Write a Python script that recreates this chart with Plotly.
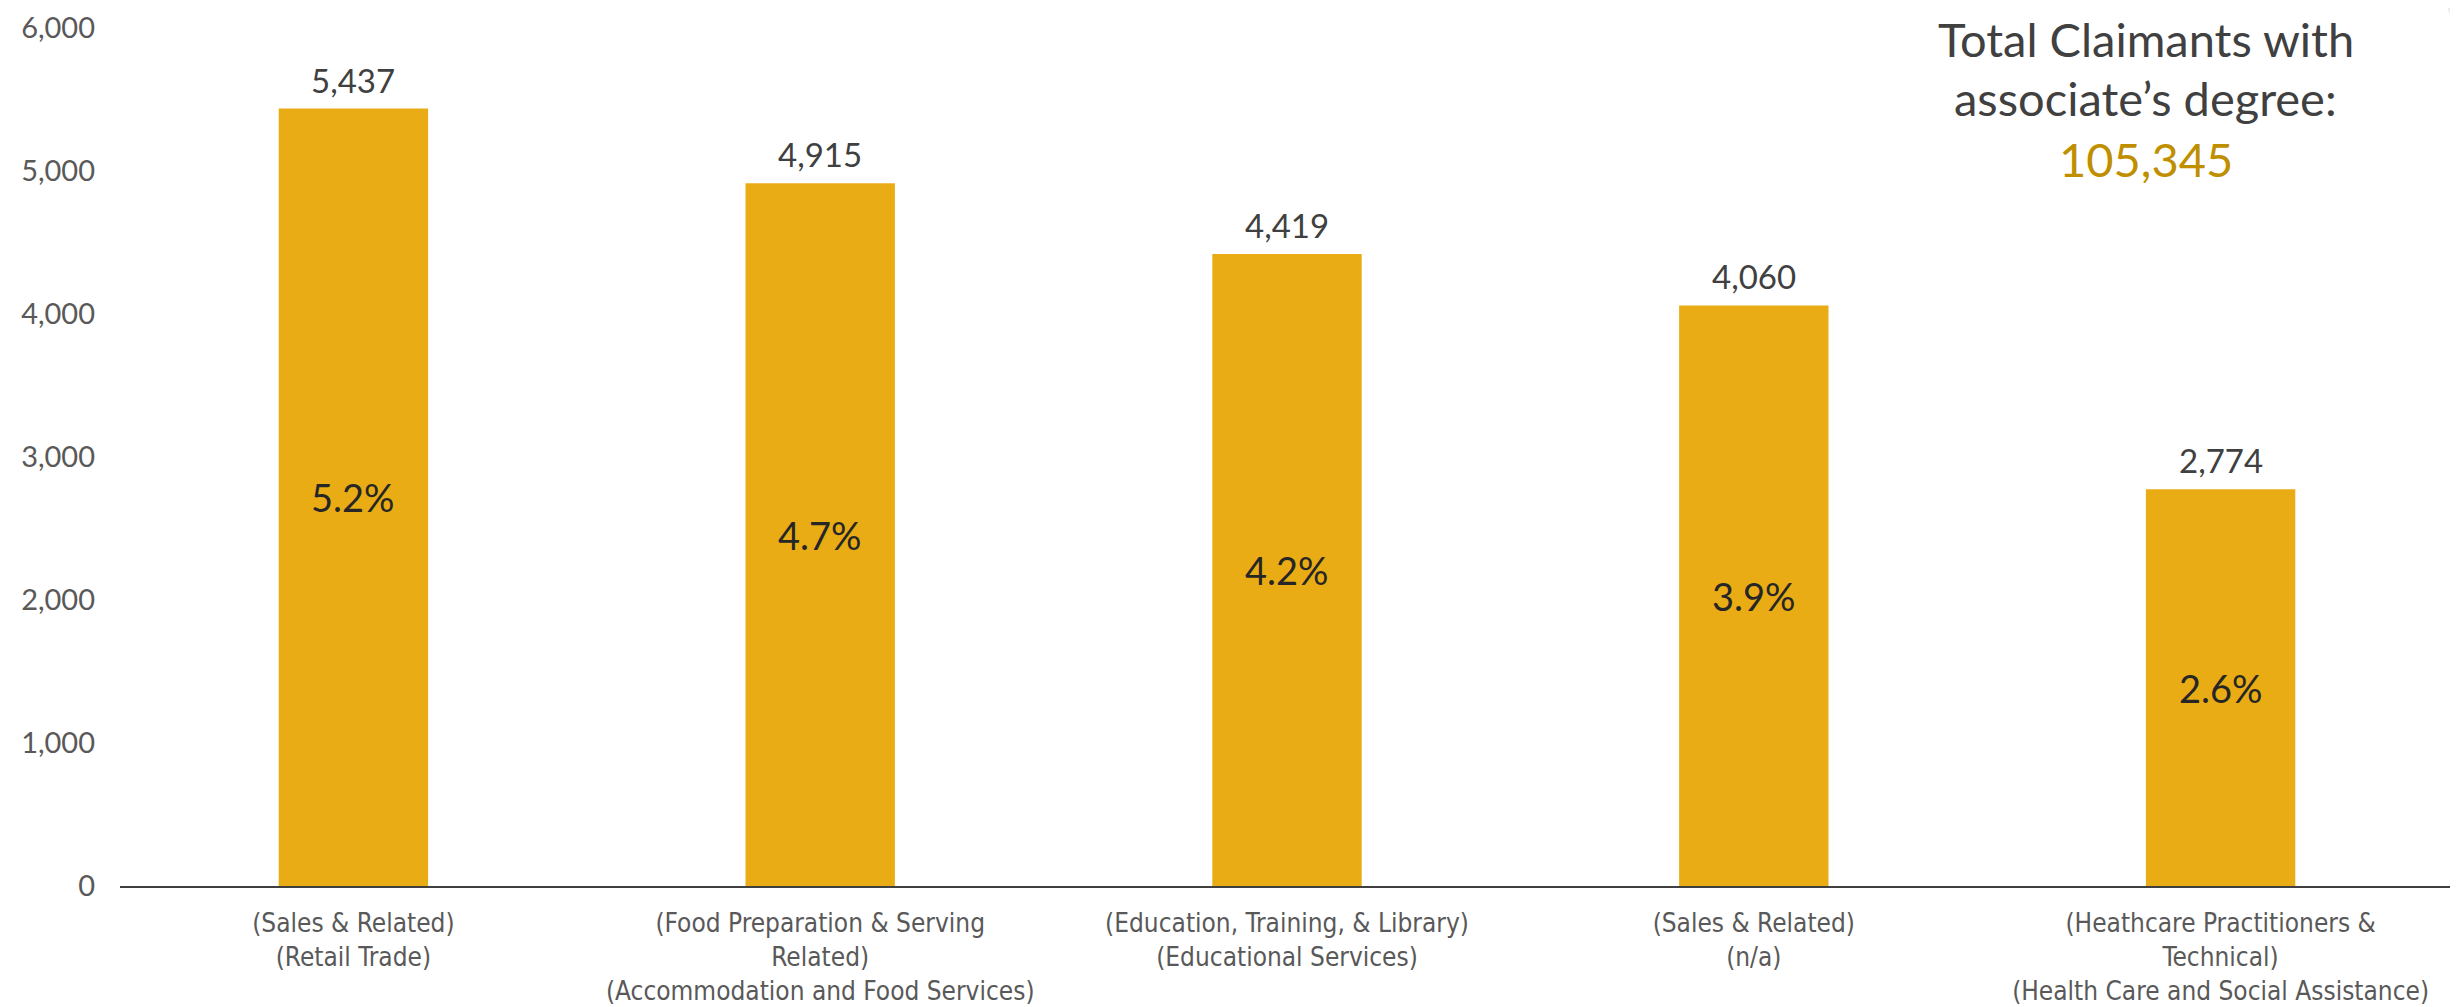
import plotly.graph_objects as go

# occupation / industry categories
categories = [
    "(Sales & Related)<br>(Retail Trade)",
    "(Food Preparation & Serving<br>Related)<br>(Accommodation and Food Services)",
    "(Education, Training, & Library)<br>(Educational Services)",
    "(Sales & Related)<br>(n/a)",
    "(Heathcare Practitioners &<br>Technical)<br>(Health Care and Social Assistance)",
]
claimants = [5437, 4915, 4419, 4060, 2774]
share_pct = ["5.2%", "4.7%", "4.2%", "3.9%", "2.6%"]
total_claimants = "105,345"
callout_lines = ["Total Claimants with", "associate\u2019s degree:", total_claimants]
y_ticks = [0, 1000, 2000, 3000, 4000, 5000, 6000]

BAR_COLOR = "#EAAC14"
GOLD_TEXT = "#BF8F00"
FONT = "Lato, Noto Sans, sans-serif"
COND = "DejaVu Sans Condensed, Liberation Sans Narrow, sans-serif"

fig = go.Figure()

fig.add_trace(
    go.Bar(
        x=categories,
        y=claimants,
        marker_color=BAR_COLOR,
        marker_line_width=0,
        hoverinfo="skip",
    )
)

# value labels above bars and share labels in the middle
for cat, val, pct in zip(categories, claimants, share_pct):
    fig.add_annotation(
        x=cat, y=val, text=f"{val:,}",
        showarrow=False, yanchor="bottom", yshift=7,
        font=dict(family=FONT, size=33, color="#404040"),
    )
    fig.add_annotation(
        x=cat, y=val / 2, text=pct,
        showarrow=False, yanchor="middle",
        font=dict(family=FONT, size=38, color="#262626"),
    )

# total claimants call-out, one annotation per line
for line, ypos, col in zip(callout_lines, [0.987, 0.918, 0.847],
                           ["#404040", "#404040", GOLD_TEXT]):
    fig.add_annotation(
        xref="paper", yref="paper", x=0.868, y=ypos,
        xanchor="center", yanchor="middle",
        text=line, showarrow=False,
        font=dict(family=FONT, size=47, color=col),
    )

# little grey decorative wedge in the corner
fig.add_shape(
    type="path", xref="paper", yref="paper",
    path="M 0.997 1.024 L 1.006 1.024 L 1.006 0.970 Z",
    fillcolor="#EBEBEB", line_width=0, layer="below",
)

fig.update_layout(
    width=2458,
    height=1007,
    margin=dict(l=112, r=12, t=20, b=129, autoexpand=False),
    plot_bgcolor="white",
    paper_bgcolor="white",
    showlegend=False,
    bargap=0.68,
    font=dict(family=FONT, color="#595959"),
)

fig.update_xaxes(
    showline=True, linecolor="#404040", linewidth=2,
    showgrid=False, ticks="", automargin=False,
    ticklabelstandoff=13,
    tickfont=dict(family=COND, size=26, color="#595959"),
)

fig.update_yaxes(
    range=[0, 6000], tickvals=y_ticks, automargin=False,
    tickformat=",d", showgrid=False, zeroline=False, showline=False,
    ticklabelstandoff=24, ticklabeloverflow="allow",
    tickfont=dict(family=FONT, size=29, color="#595959"),
)

fig.write_html("out.html")
